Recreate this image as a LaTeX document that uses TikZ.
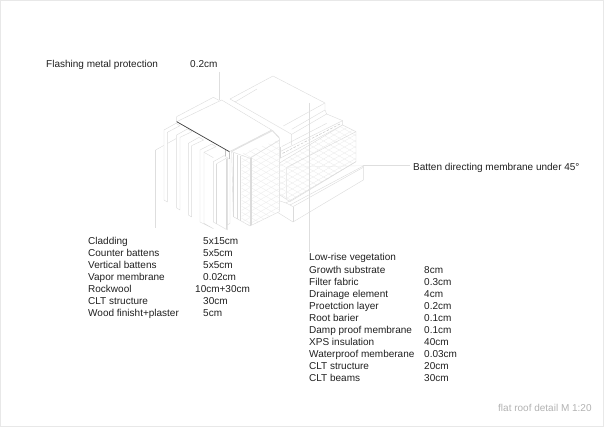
\documentclass[tikz,border=0pt]{standalone}
\usepackage{fontspec}
\usetikzlibrary{calc}
\setmainfont{Liberation Sans}
\begin{document}
\begin{tikzpicture}[x=1pt,y=-1pt,
  lbl/.style={inner sep=0pt,anchor=base west,font=\fontsize{10}{12}\selectfont,text=black!88},
  ln/.style={draw=black!14,line width=0.4pt,line join=round},
  faint/.style={draw=black!8,line width=0.35pt},
  face/.style={ln,fill=white},
  lead/.style={draw=black!13,line width=0.35pt},
  hatchline/.style={draw=black!8,line width=0.3pt}]
\useasboundingbox (0,0) rectangle (604,427);
\draw[draw=black!9,line width=1pt] (0.5,0.5) rectangle (603.5,426.5);
\begin{scope}[shift={(150,90)},x=0.3333pt,y=-0.3333pt]
\coordinate (fl) at (207,-54); \coordinate (flb) at (207,30);
\draw[lead] (fl) -- (flb);
\coordinate (lt) at (477,39); \coordinate (lb) at (477,486);
\coordinate (ct) at (17,180); \coordinate (cb) at (17,414);
\draw[lead] (ct) -- (cb);
\coordinate (ba) at (640,227); \coordinate (bb) at (781,227);
\draw[lead] (ba) -- (bb);
% roof build-up: back slab
\draw[ln] (240,27) -- (369,-42) -- (525,39) -- (400,108);
\draw[ln] (255,36) -- (321,-3);
\draw[ln] (525,39) -- (525,60) -- (425,118);
\draw[ln] (525,60) -- (530,72) -- (425,133);
\draw[ln] (240,27) -- (425,133) -- (425,165);
\draw[ln] (530,72) -- (578,92);
% drainage band
\draw[ln] (390,185) -- (578,92) -- (578,105) -- (390,205) -- cycle;
\draw[ln] (395,170) -- (530,100);
\draw[ln] (390,170) -- (390,205);
\foreach \t in {0.03,0.09,...,0.97} {
 \draw[draw=black!22,line width=0.5pt] ($(392,193)!\t!(576,99)$) -- +(7,-3.6);
}
% wall with insulation hatch
\draw[face] (385,222) -- (400,212) -- (578,105) -- (618,125) -- (618,215) -- (420,335) -- (385,312) -- cycle;
\begin{scope}
 \clip (385,222) -- (400,212) -- (578,105) -- (618,125) -- (618,215) -- (420,335) -- (385,312) -- cycle;
 \foreach \y in {0,18,...,600} {
  \draw[hatchline] (380,\y) -- (620,\y-138);
  \draw[hatchline] (380,\y) -- (620,\y+138);
 }
\end{scope}
\draw[ln] (410,232) -- (618,125);
\draw[faint] (410,232) -- (410,330);
\draw[faint] (410,232) -- (640,227);
% base
\draw[face] (381,330) -- (408,339) -- (420,345) -- (640,228) -- (640,270) -- (429,396) -- (381,366) -- cycle;
\draw[ln] (420,345) -- (429,350) -- (640,232);
\draw[ln] (429,350) -- (429,396);
\draw[ln] (408,339) -- (618,215);
% hatched block
\draw[face] (245,185) -- (365,120) -- (388,145) -- (388,365) -- (300,408) -- (250,380) -- cycle;
\begin{scope}
 \clip (275,190) -- (388,150) -- (388,365) -- (300,408) -- (275,395) -- cycle;
 \foreach \y in {-50,-32,...,560} {
  \draw[hatchline] (270,\y) -- (390,\y-69);
  \draw[hatchline] (270,\y) -- (390,\y+69);
 }
\end{scope}
\draw[ln] (245,185) -- (300,205) -- (388,150);
\draw[ln] (250,190) -- (250,380);
\draw[ln] (262,195) -- (262,388);
\draw[ln] (272,198) -- (272,392);
\draw[ln] (300,205) -- (300,408);
\draw[ln] (305,203) -- (305,405);
\draw[draw=black!11,line width=0.8pt] (248,182) -- (368,122) -- (388,143);
% flashing plane and its back edge
\draw[face] (80,95) -- (215,30) -- (365,120) -- (238,185) -- cycle;
\draw[ln] (80,95) -- (80,80) -- (190,22) -- (207,31);
% fins, back to front
\draw[ln] (17,180) -- (78,146);
\draw[face] (42,120) -- (78,100) -- (90,107) -- (52,127) -- (52,336) -- (42,330) -- cycle;
\draw[face] (80,135) -- (112,117) -- (126,125) -- (90,142) -- (90,360) -- (80,354) -- cycle;
\draw[face] (115,160) -- (147,142) -- (161,150) -- (125,167) -- (125,381) -- (115,375) -- cycle;
\draw[face] (150,180) -- (185,162) -- (198,170) -- (162,187) -- (162,400) -- (190,416) -- (150,396) -- cycle;
\draw[ln] (162,187) -- (190,203);
\draw[face] (232,208) -- (240,204) -- (240,400) -- (232,405) -- cycle;
\draw[face] (190,215) -- (222,197) -- (232,203) -- (232,420) -- (190,396) -- cycle;
\draw[ln] (200,221) -- (232,203);
\draw[ln] (200,221) -- (200,402);
\draw[ln] (228,206) -- (228,417);
\draw[draw=black!24,line width=0.4pt] (238,185) -- (238,207);
\draw[draw=black!24,line width=0.4pt] (226,178) -- (226,197);
% flashing edge
\draw[draw=black!75,line width=0.7pt] (80,95) -- (238,185);
\draw[lead] (lt) -- (lb);
\end{scope}
% labels
\node[lbl] (t1) at (46,68) {Flashing metal protection};
\node[lbl] (t2) at (190,68) {0.2cm};
\node[lbl] (t3) at (413,171) {Batten directing membrane under 45°};
\foreach \n/\y/\a/\b/\bx in {
 a/244.6/Cladding/5x15cm/203,
 b/256.6/Counter battens/5x5cm/203,
 c/268.6/Vertical battens/5x5cm/203,
 d/280.6/Vapor membrane/0.02cm/203,
 e/292.6/Rockwool/10cm+30cm/195,
 f/304.6/CLT structure/30cm/203,
 g/316.6/Wood finisht+plaster/5cm/203}{
 \node[lbl] (l\n) at (88,\y) {\a};
 \node[lbl] (v\n) at (\bx,\y) {\b};
}
\node[lbl] (r0) at (309,261) {Low-rise vegetation};
\foreach \n/\y/\a/\b in {
 a/273/Growth substrate/8cm,
 b/285/Filter fabric/0.3cm,
 c/297/Drainage element/4cm,
 d/309/Proetction layer/0.2cm,
 e/321/Root barier/0.1cm,
 f/333/Damp proof membrane/0.1cm,
 g/345/XPS insulation/40cm,
 h/357/Waterproof memberane/0.03cm,
 i/369/CLT structure/20cm,
 j/381/CLT beams/30cm}{
 \node[lbl] (p\n) at (309,\y) {\a};
 \node[lbl] (q\n) at (424,\y) {\b};
}
\node[lbl,text=black!30] (ttl) at (498,411) {flat roof detail M 1:20};
\end{tikzpicture}
\end{document}
